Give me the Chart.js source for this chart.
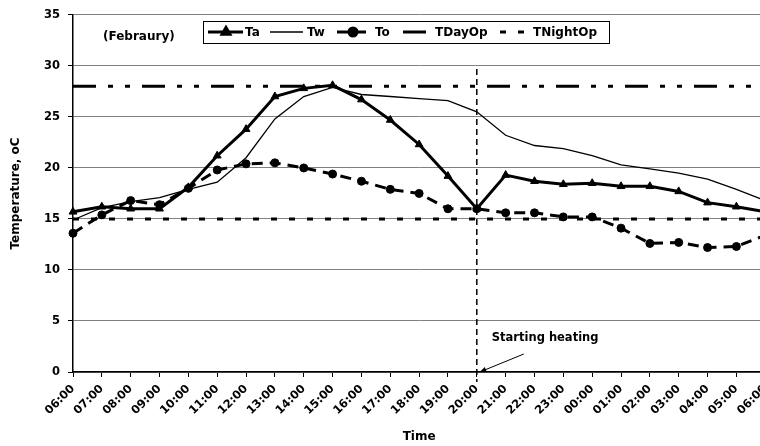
<!DOCTYPE html>
<html>
<head>
<meta charset="utf-8">
<style>
    html, body { margin: 0; padding: 0; background: #fff; overflow: hidden; }
</style>
</head>
<body>
<!--Canvas is a bit wider than the window: the last hour sits just past the right edge, like the reference-->
<canvas id="myChart" width="780" height="446"></canvas>
<script type="text/javascript" src="https://cdn.jsdelivr.net/npm/chart.js@4.4.2/dist/chart.umd.min.js"></script>
<script>
// data
const hours = ['06:00', '07:00', '08:00', '09:00', '10:00', '11:00', '12:00', '13:00', '14:00',
    '15:00', '16:00', '17:00', '18:00', '19:00', '20:00', '21:00', '22:00', '23:00', '00:00',
    '01:00', '02:00', '03:00', '04:00', '05:00', '06:00'];
const ta = [15.7, 16.2, 16.0, 16.0, 18.1, 21.2, 23.8, 27.0, 27.8, 28.1, 26.7, 24.7, 22.3,
    19.2, 16.0, 19.3, 18.7, 18.4, 18.5, 18.2, 18.2, 17.7, 16.6, 16.2, 15.7];
const tw = [14.9, 16.1, 16.7, 17.1, 17.9, 18.6, 21.0, 24.8, 27.0, 27.9, 27.2, 27.0, 26.8,
    26.6, 25.5, 23.2, 22.2, 21.9, 21.2, 20.3, 19.9, 19.5, 18.9, 17.9, 16.8];
const to = [13.6, 15.4, 16.8, 16.4, 18.0, 19.8, 20.4, 20.5, 20.0, 19.4, 18.7, 17.9, 17.5,
    16.0, 16.0, 15.6, 15.6, 15.2, 15.2, 14.1, 12.6, 12.7, 12.2, 12.3, 13.4];
const tDayOp = [28, 28, 28, 28, 28, 28, 28, 28, 28, 28, 28, 28, 28, 28, 28, 28, 28, 28, 28, 28, 28, 28, 28, 28, 28];
const tNightOp = [15, 15, 15, 15, 15, 15, 15, 15, 15, 15, 15, 15, 15, 15, 15, 15, 15, 15, 15, 15, 15, 15, 15, 15, 15];
const heatStart = '20:00';
const monthNote = '(Febraury)';
const heatNote = 'Starting heating';

const FONT = 'DejaVu Sans';
Chart.defaults.font.family = FONT;
Chart.defaults.font.weight = 'bold';
Chart.defaults.color = '#000';

// legend box + notes + heating marker
const extras = {
    id: 'extras',
    afterDatasetsDraw(chart) {
        const { ctx, chartArea, scales: { x, y } } = chart;
        ctx.save();

        // vertical dashed line where heating starts
        const hx = x.getPixelForValue(hours.indexOf(heatStart));
        const y0 = y.getPixelForValue(0);
        ctx.strokeStyle = '#000';
        ctx.lineWidth = 1.5;
        ctx.setLineDash([6, 4]);
        ctx.beginPath();
        ctx.moveTo(hx, y.getPixelForValue(29.7));
        ctx.lineTo(hx, y0 + 10);
        ctx.stroke();

        // arrow + text
        ctx.setLineDash([]);
        ctx.lineWidth = 1;
        const tipX = hx + 3, tipY = y0, tailX = hx + 47, tailY = y0 - 18;
        ctx.beginPath();
        ctx.moveTo(tailX, tailY);
        ctx.lineTo(tipX, tipY);
        ctx.stroke();
        const ang = Math.atan2(tipY - tailY, tipX - tailX);
        ctx.beginPath();
        ctx.moveTo(tipX, tipY);
        ctx.lineTo(tipX - 7 * Math.cos(ang - 0.4), tipY - 7 * Math.sin(ang - 0.4));
        ctx.lineTo(tipX - 7 * Math.cos(ang + 0.4), tipY - 7 * Math.sin(ang + 0.4));
        ctx.closePath();
        ctx.fillStyle = '#000';
        ctx.fill();

        ctx.font = 'bold 11.5px ' + FONT;
        ctx.textBaseline = 'middle';
        ctx.textAlign = 'left';
        ctx.fillText(heatNote, hx + 15, y0 - 34);

        // month note
        ctx.font = 'bold 12px ' + FONT;
        ctx.fillText(monthNote, chartArea.left + 30, chartArea.top + 22);

        // legend box
        const bx = 203, by = 21, bw = 406, bh = 22;
        const cy = by + bh / 2;
        ctx.fillStyle = '#fff';
        ctx.fillRect(bx, by, bw, bh);
        ctx.strokeStyle = '#000';
        ctx.lineWidth = 1;
        ctx.strokeRect(bx + 0.5, by + 0.5, bw, bh);

        // [sample start, sample end, marker x, text x] relative to the box
        const slots = [[5, 40, 23, 42], [67, 100, 0, 104], [134, 166, 150, 172], [200, 229, 0, 232], [297, 322, 0, 330]];
        chart.data.datasets.forEach((ds, i) => {
            const [s0, s1, mx, tx] = slots[i];
            ctx.strokeStyle = '#000';
            ctx.lineWidth = ds.borderWidth;
            ctx.setLineDash(ds.borderDash || []);
            ctx.beginPath();
            ctx.moveTo(bx + s0, cy);
            ctx.lineTo(bx + s1, cy);
            ctx.stroke();
            ctx.setLineDash([]);
            if (ds.pointRadius > 0) {
                ctx.fillStyle = '#000';
                Chart.helpers.drawPoint(ctx, {
                    pointStyle: ds.pointStyle, radius: ds.pointRadius, rotation: 0, borderWidth: 1
                }, bx + mx, cy);
            }
            ctx.fillStyle = '#000';
            ctx.font = 'bold 12px ' + FONT;
            ctx.fillText(ds.label, bx + tx, cy + 1);
        });
        ctx.restore();
    }
};

const data = {
    labels: hours,
    datasets: [
        {
            label: 'Ta',
            data: ta,
            borderColor: '#000',
            backgroundColor: '#000',
            borderWidth: 3,
            pointStyle: 'triangle',
            pointRadius: 4.5,
            pointBorderWidth: 1
        },
        {
            label: 'Tw',
            data: tw,
            borderColor: '#000',
            borderWidth: 1.3,
            pointRadius: 0
        },
        {
            label: 'To',
            data: to,
            borderColor: '#000',
            backgroundColor: '#000',
            borderWidth: 3,
            borderDash: [11, 7],
            pointStyle: 'circle',
            pointRadius: 4,
            pointBorderWidth: 1
        },
        {
            label: 'TDayOp',
            data: tDayOp,
            borderColor: '#000',
            borderWidth: 3,
            borderDash: [23, 12, 5, 12, 5, 12],
            pointRadius: 0
        },
        {
            label: 'TNightOp',
            data: tNightOp,
            borderColor: '#000',
            borderWidth: 3,
            borderDash: [6, 12],
            pointRadius: 0
        }
    ]
};

const config = {
    type: 'line',
    data,
    options: {
        responsive: false,
        animation: false,
        layout: { padding: { top: 14, right: 14, left: 0, bottom: 0 } },
        plugins: {
            legend: { display: false },
            tooltip: { enabled: false }
        },
        elements: { line: { tension: 0 } },
        scales: {
            x: {
                offset: false,
                grid: { drawOnChartArea: false, tickLength: 5, tickColor: '#000' },
                border: { color: '#000', width: 1.5 },
                ticks: {
                    autoSkip: false, minRotation: 45, maxRotation: 45, padding: 5,
                    font: { size: 11.5, weight: 'bold' }
                },
                title: {
                    display: true, text: 'Time', padding: { top: 0, bottom: 2 },
                    font: { size: 12, weight: 'bold' }
                },
                afterFit: (s) => { s.height = 74; }
            },
            y: {
                min: 0,
                max: 35,
                grid: { color: '#808080', lineWidth: 1, tickLength: 5, tickColor: '#000' },
                border: { color: '#000', width: 1.5 },
                ticks: { stepSize: 5, padding: 8, font: { size: 11.5, weight: 'bold' } },
                title: {
                    display: true, text: 'Temperature, oC', padding: { top: 9, bottom: 0 },
                    font: { size: 12, weight: 'bold' }
                },
                afterFit: (s) => { s.width = 73; }
            }
        }
    },
    plugins: [extras]
};

let myChart = new Chart(document.getElementById('myChart'), config);
</script>
</body>
</html>
